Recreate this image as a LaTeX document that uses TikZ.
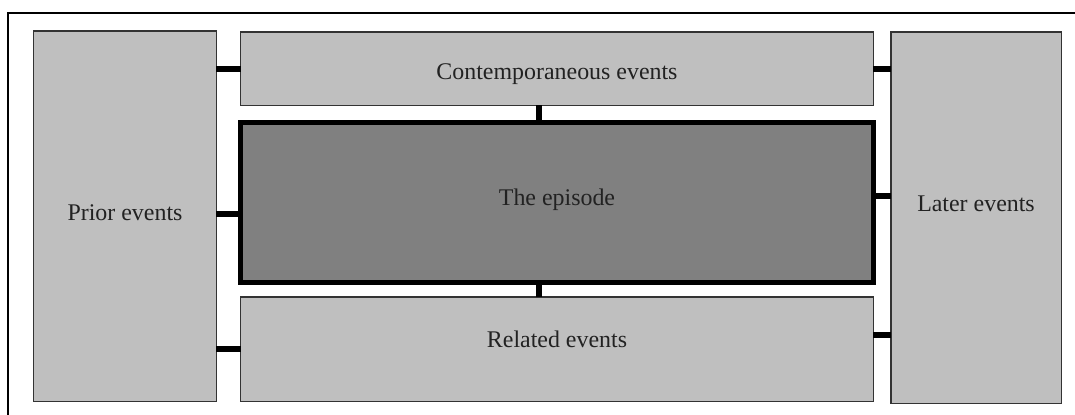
\documentclass[tikz,border=0pt]{standalone}
\usepackage{fontspec}
\setmainfont{Liberation Serif}
\usetikzlibrary{calc}
\definecolor{lightbox}{RGB}{191,191,191}
\definecolor{darkbox}{RGB}{128,128,128}
\definecolor{textc}{RGB}{34,34,34}
\begin{document}
\begin{tikzpicture}[x=1bp,y=-1bp,
  box/.style={draw=black!80, line width=1.5bp, fill=lightbox, inner sep=0pt, outer sep=0pt},
  epibox/.style={draw=black, line width=5bp, fill=darkbox, inner sep=0pt, outer sep=0pt},
  lab/.style={font=\fontsize{24}{28}\selectfont, text=textc, inner sep=0pt},
  conn/.style={draw=black, line width=6bp}]
\useasboundingbox (0,0) rectangle (1075,414);
\begin{scope}
  \clip (0,0) rectangle (1075,414);
  \draw[line width=1.5bp] (8,13) rectangle (1200,500);
\end{scope}
\node[box, minimum width=182.5bp, minimum height=370.5bp,
  label={[lab, yshift=3bp]center:Prior events}] (P) at (125,216) {};
\node[box, minimum width=632.5bp, minimum height=73.5bp,
  label={[lab, yshift=-6bp]center:Contemporaneous events}] (C) at (557,68.5) {};
\node[epibox, minimum width=633bp, minimum height=160bp,
  label={[lab, yshift=3bp]center:The episode}] (E) at (557,202.5) {};
\node[box, minimum width=632.5bp, minimum height=104.5bp,
  label={[lab, yshift=10bp]center:Related events}] (R) at (557,349) {};
\node[box, minimum width=170.5bp, minimum height=371.5bp,
  label={[lab, yshift=13.5bp]center:Later events}] (L) at (976,217.5) {};
\coordinate (pe) at ($(E.west)+(0,11)$);
\coordinate (el) at ($(E.east)+(0,-6.5)$);
\coordinate (rl) at ($(R.east)+(0,-14.5)$);
\coordinate (ce) at ($(C.south)+(-18,0)$);
\coordinate (er) at ($(E.south)+(-18,0)$);
\draw[conn] (P.east |- C.west) -- (C.west);
\draw[conn] (pe -| P.east) -- (pe);
\draw[conn] (P.east |- R.west) -- (R.west);
\draw[conn] (C.east) -- (C.east -| L.west);
\draw[conn] (el) -- (el -| L.west);
\draw[conn] (rl) -- (rl -| L.west);
\draw[conn] (ce) -- (ce |- E.north);
\draw[conn] (er) -- (er |- R.north);
\end{tikzpicture}
\end{document}
